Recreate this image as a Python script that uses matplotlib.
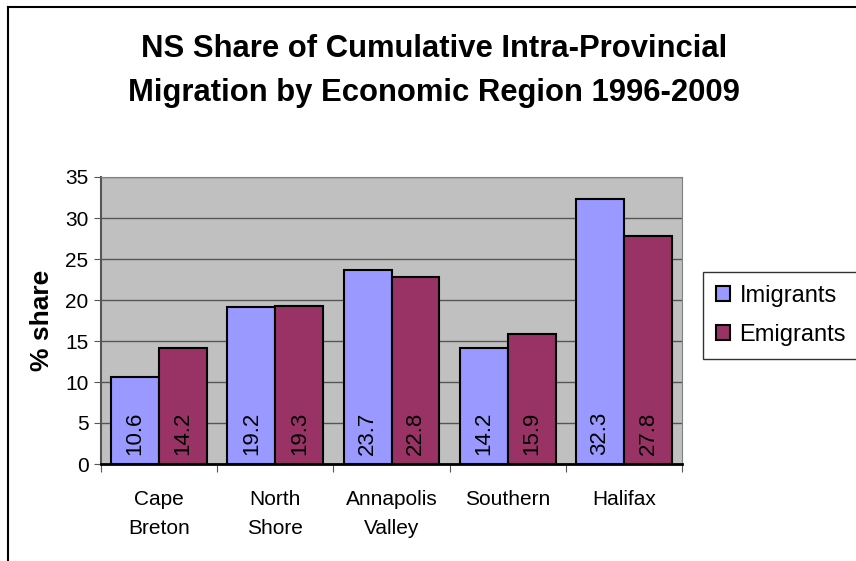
import matplotlib.pyplot as plt
import numpy as np
from matplotlib.lines import Line2D
from matplotlib.patches import Patch

plt.rcParams['font.family'] = ['Liberation Sans', 'DejaVu Sans']

# данные
regions = ['Cape\nBreton', 'North\nShore', 'Annapolis\nValley', 'Southern', 'Halifax']
imigrants = [10.6, 19.2, 23.7, 14.2, 32.3]
emigrants = [14.2, 19.3, 22.8, 15.9, 27.8]
yticks = [0, 5, 10, 15, 20, 25, 30, 35]

fig = plt.figure(figsize=(8.56, 5.61), dpi=100)
ax = fig.add_axes([101 / 856, 1 - 464 / 561, 581 / 856, 287 / 561])
ax.set_facecolor('#C0C0C0')

x = np.arange(len(regions))
w = 0.413
b1 = ax.bar(x - w / 2, imigrants, w, color='#9999FF', edgecolor='black', linewidth=1.5, zorder=3)
b2 = ax.bar(x + w / 2, emigrants, w, color='#993366', edgecolor='black', linewidth=1.5, zorder=3)

# подписи значений внутри столбцов, повёрнутые
for bars, vals in ((b1, imigrants), (b2, emigrants)):
    for r, v in zip(bars, vals):
        ax.text(r.get_x() + r.get_width() / 2, 1.05, f'{v:.1f}', rotation=90,
                ha='center', va='bottom', fontsize=16, zorder=4)

ax.set_xlim(-0.5, len(regions) - 0.5)
ax.set_ylim(0, 35)
ax.set_yticks(yticks)
ax.tick_params(axis='y', labelsize=15, length=5, color='#555555', pad=4)
ax.yaxis.grid(True, color='#555555', linewidth=1, zorder=1)

# деления оси X между категориями, подписи по центру
ax.set_xticks(np.arange(len(regions) + 1) - 0.5)
ax.set_xticklabels([])
ax.set_xticks(x, minor=True)
ax.set_xticklabels(regions, minor=True, fontsize=15, linespacing=1.65)
ax.tick_params(axis='x', which='major', length=6, color='#555555')
ax.tick_params(axis='x', which='minor', length=0, pad=19)

for s in ('top', 'right'):
    ax.spines[s].set_color('#808080')
ax.spines['left'].set_color('#555555')
ax.spines['left'].set_linewidth(1.5)
ax.spines['bottom'].set_color('black')
ax.spines['bottom'].set_linewidth(2)

ax.set_ylabel('% share', fontsize=19, fontweight='bold', labelpad=8)

fig.text(434 / 856, 1 - 71 / 561, 'NS Share of Cumulative Intra-Provincial\nMigration by Economic Region 1996-2009',
         ha='center', va='center', fontsize=22.3, fontweight='bold', linespacing=1.6)

handles = [Patch(facecolor='#9999FF', edgecolor='black', linewidth=1.5),
           Patch(facecolor='#993366', edgecolor='black', linewidth=1.5)]
leg = fig.legend(handles, ['Imigrants', 'Emigrants'], loc='upper left',
                 bbox_to_anchor=(703 / 856, 1 - 272 / 561), fontsize=17,
                 frameon=True, fancybox=False, handlelength=0.6, handleheight=0.6,
                 handletextpad=0.4, labelspacing=0.7, borderpad=0.55, borderaxespad=0)
leg.get_frame().set_edgecolor('black')
leg.get_frame().set_linewidth(1)

# рамка диаграммы
fig.add_artist(Line2D([8 / 856, 8 / 856], [0, 1 - 7 / 561], color='black', linewidth=1.5))
fig.add_artist(Line2D([8 / 856, 1], [1 - 7 / 561, 1 - 7 / 561], color='black', linewidth=1.5))

fig.savefig('out.png', dpi=100)
